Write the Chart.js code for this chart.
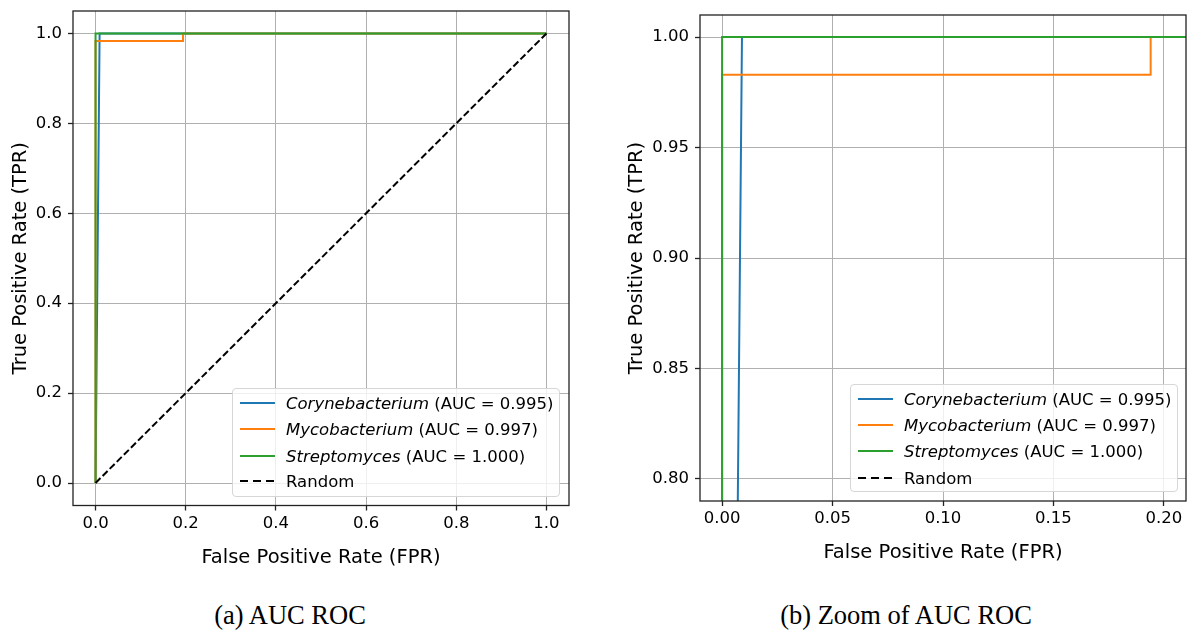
<!DOCTYPE html>
<html>
<head>
<meta charset="utf-8">
<script src="https://cdn.jsdelivr.net/npm/chart.js@4/dist/chart.umd.min.js"></script>
<style>
  body { margin: 0; width: 1189px; height: 631px; background: #fff; position: relative; overflow: hidden; font-family: "DejaVu Sans", sans-serif; }
  canvas { position: absolute; top: 0; }
  .legend { position: absolute; background: rgba(255,255,255,0.8); border: 1px solid #d6d6d6; border-radius: 4px; box-sizing: border-box; font-size: 16.5px; color: #000; }
  .legend .row { position: absolute; left: 0; height: 26px; display: flex; align-items: center; white-space: nowrap; }
  .legend .handle { width: 35px; height: 2px; margin-left: 7px; margin-right: 11px; }
  .legend .dashed { background: repeating-linear-gradient(to right, #000 0 8px, transparent 8px 13px); }
  .caption { position: absolute; font-family: "Liberation Serif", serif; font-size: 26.5px; transform: translateX(-50%); white-space: nowrap; color: #000; }
</style>
</head>
<body>
<canvas id="rocFull" width="590" height="580" style="left:0"></canvas>
<canvas id="rocZoom" width="589" height="580" style="left:600px"></canvas>
<div class="legend" id="legendFull" style="left:232px; top:388px; width:328px; height:109px"></div>
<div class="legend" id="legendZoom" style="left:850px; top:384px; width:328px; height:108px"></div>
<div class="caption" style="left:290px; top:600px">(a) AUC ROC</div>
<div class="caption" style="left:906px; top:600px">(b) Zoom of AUC ROC</div>
<script>
// ROC curves per genus (false positive rate / true positive rate)
const fprCoryne = [0, 0.009, 1];
const tprCoryne = [0, 1, 1];
const fprMyco = [0, 0, 0.194, 0.194, 1];
const tprMyco = [0, 0.983, 0.983, 1, 1];
const fprStrepto = [0, 0, 1];
const tprStrepto = [0, 1, 1];
const fprRandom = [0, 1];
const tprRandom = [0, 1];

const species = ["Corynebacterium", "Mycobacterium", "Streptomyces"];
const aucValues = ["0.995", "0.997", "1.000"];
const seriesColors = ["#1f77b4", "#ff7f0e", "#2ca02c"];

const ticksFull = [0, 0.2, 0.4, 0.6, 0.8, 1.0];
const ticksZoomX = [0, 0.05, 0.1, 0.15, 0.2];
const ticksZoomY = [0.8, 0.85, 0.9, 0.95, 1.0];

const pts = (xs, ys) => xs.map((x, i) => ({ x, y: ys[i] }));

// axes spines on all four sides, drawn over the curves like matplotlib does
const frame = {
  id: "frame",
  afterDraw(chart) {
    const { ctx, chartArea: a } = chart;
    ctx.save();
    ctx.strokeStyle = "#222";
    ctx.lineWidth = 1.3;
    ctx.strokeRect(a.left, a.top, a.right - a.left, a.bottom - a.top);
    ctx.restore();
  },
};

function datasets() {
  const curves = [
    [fprCoryne, tprCoryne],
    [fprMyco, tprMyco],
    [fprStrepto, tprStrepto],
  ];
  // lower order is painted last, so green ends up over orange over blue
  const list = curves.map(([xs, ys], i) => ({
    label: species[i],
    data: pts(xs, ys),
    showLine: true,
    borderColor: seriesColors[i],
    backgroundColor: seriesColors[i],
    borderWidth: 2,
    pointRadius: 0,
    order: 3 - i,
  }));
  list.push({
    label: "Random",
    data: pts(fprRandom, tprRandom),
    showLine: true,
    borderColor: "#000",
    borderWidth: 2,
    borderDash: [7, 3],
    pointRadius: 0,
    order: 0,
  });
  return list;
}

function scale(title, ticks, min, max, digits, size, horizontal) {
  return {
    type: "linear",
    min,
    max,
    afterBuildTicks: (s) => { s.ticks = ticks.map((value) => ({ value })); },
    // fixed axis box; the edge padding Chart.js reserves for end labels isn't needed here
    afterFit: (s) => {
      if (horizontal) s.height = size; else s.width = size;
      s.paddingTop = s.paddingBottom = s.paddingLeft = s.paddingRight = 0;
    },
    title: { display: true, text: title, color: "#000", padding: 0, font: { family: "DejaVu Sans", size: 19.5 } },
    ticks: {
      color: "#000",
      padding: horizontal ? 3 : 6,
      font: { family: "DejaVu Sans", size: 16.5 },
      callback: (v) => Number(v).toFixed(digits),
    },
    grid: { color: "#b0b0b0", lineWidth: 1, tickLength: 5, tickColor: "#222", tickWidth: 1.3 },
    border: { display: false },
  };
}

function drawRoc(id, { xTicks, yTicks, xRange, yRange, digits, padding, yWidth, xHeight }) {
  return new Chart(document.getElementById(id), {
    type: "scatter",
    data: { datasets: datasets() },
    options: {
      responsive: false,
      animation: false,
      layout: { padding },
      scales: {
        x: scale("False Positive Rate (FPR)", xTicks, xRange[0], xRange[1], digits, xHeight, true),
        y: scale("True Positive Rate (TPR)", yTicks, yRange[0], yRange[1], digits, yWidth, false),
      },
      plugins: { legend: { display: false }, tooltip: { enabled: false } },
    },
    plugins: [frame],
  });
}

drawRoc("rocFull", {
  xTicks: ticksFull, yTicks: ticksFull, xRange: [-0.05, 1.05], yRange: [-0.05, 1.05], digits: 1,
  padding: { left: 9, top: 11, right: 21, bottom: 10 }, yWidth: 64, xHeight: 64.5,
});
drawRoc("rocZoom", {
  xTicks: ticksZoomX, yTicks: ticksZoomY, xRange: [-0.01, 0.21], yRange: [0.79, 1.01], digits: 2,
  padding: { left: 25, top: 15, right: 3, bottom: 15 }, yWidth: 75, xHeight: 64,
});

// legend with italic genus names, built from the same series arrays
function buildLegend(id, rowTops) {
  const box = document.getElementById(id);
  const entries = species.map((name, i) => ({ color: seriesColors[i], html: `<i>${name}</i>&nbsp;(AUC = ${aucValues[i]})` }));
  entries.push({ dashed: true, html: "Random" });
  entries.forEach((e, i) => {
    const row = document.createElement("div");
    row.className = "row";
    row.style.top = rowTops[i] + "px";
    const handle = document.createElement("span");
    handle.className = "handle" + (e.dashed ? " dashed" : "");
    if (!e.dashed) handle.style.background = e.color;
    const text = document.createElement("span");
    text.innerHTML = e.html;
    row.append(handle, text);
    box.append(row);
  });
}
buildLegend("legendFull", [1, 27, 54, 79]);
buildLegend("legendZoom", [1, 27, 53, 80]);
</script>
</body>
</html>
